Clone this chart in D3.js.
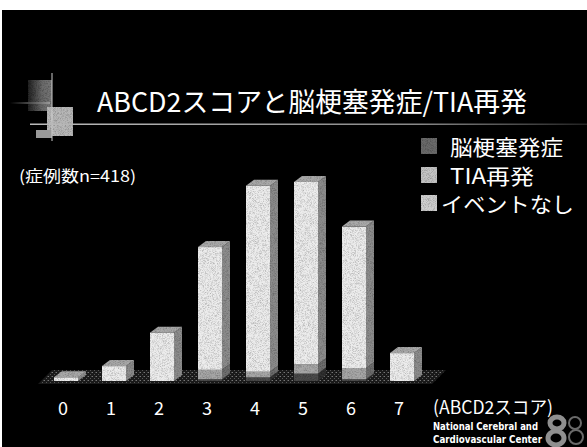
<!DOCTYPE html>
<html><head><meta charset="utf-8">
<script src="https://cdn.jsdelivr.net/npm/d3@7"></script>
<style>
html,body{margin:0;padding:0;background:#fff;}
svg{display:block;}
</style></head>
<body>
<script>
// ---- data ----
const categories = ["0","1","2","3","4","5","6","7"];
const strokeValues = [0, 0, 0, 1, 2, 4, 1, 0];      // 脳梗塞発症
const tiaValues    = [0, 0, 0, 5, 3, 5, 6, 0];      // TIA再発
const noneValues   = [2, 8, 26, 66, 100, 98, 76, 15]; // イベントなし
const seriesNames  = ["脳梗塞発症", "TIA再発", "イベントなし"];
const titleText = "ABCD2スコアと脳梗塞発症/TIA再発";
const noteText = "(症例数n=418)";
const axisTitle = "(ABCD2スコア)";
const creditLines = ["National Cerebral and", "Cardiovascular Center"];

(function(){
const W = 587, H = 447;
const svg = d3.select("body").append("svg").attr("width", W).attr("height", H);
const defs = svg.append("defs");

// stipple pattern for floor
const pat = defs.append("pattern").attr("id","floorPat").attr("width",4).attr("height",4).attr("patternUnits","userSpaceOnUse");
pat.append("rect").attr("width",4).attr("height",4).attr("fill","#1a1a1a");
pat.append("rect").attr("x",0).attr("y",0).attr("width",1).attr("height",1).attr("fill","#777");
pat.append("rect").attr("x",2).attr("y",2).attr("width",1).attr("height",1).attr("fill","#555");
pat.append("rect").attr("x",3).attr("y",0).attr("width",1).attr("height",1).attr("fill","#444");

// noise filter for surfaces
const f = defs.append("filter").attr("id","grain").attr("x",0).attr("y",0).attr("width","100%").attr("height","100%");
f.append("feTurbulence").attr("type","fractalNoise").attr("baseFrequency",1.6).attr("numOctaves",1).attr("seed",3).attr("result","n");
f.append("feColorMatrix").attr("in","n").attr("type","matrix")
 .attr("values","0 0 0 0 0  0 0 0 0 0  0 0 0 0 0  0 0 0 -1.2 0.7").attr("result","a");
f.append("feComposite").attr("in","a").attr("in2","SourceGraphic").attr("operator","in").attr("result","d");
const fm = f.append("feMerge");
fm.append("feMergeNode").attr("in","SourceGraphic");
fm.append("feMergeNode").attr("in","d");

// line gradient
const lg = defs.append("linearGradient").attr("id","lineGrad");
lg.append("stop").attr("offset","0%").attr("stop-color","#bbb");
lg.append("stop").attr("offset","70%").attr("stop-color","#888");
lg.append("stop").attr("offset","100%").attr("stop-color","#222");
const lg2 = defs.append("linearGradient").attr("id","lineGrad2");
lg2.append("stop").attr("offset","0%").attr("stop-color","#000");
lg2.append("stop").attr("offset","100%").attr("stop-color","#999");
const lg3 = defs.append("linearGradient").attr("id","sqGrad");
lg3.append("stop").attr("offset","0%").attr("stop-color","#222");
lg3.append("stop").attr("offset","60%").attr("stop-color","#6a6a6a");
lg3.append("stop").attr("offset","100%").attr("stop-color","#777");

// background
svg.append("rect").attr("x",2).attr("y",10).attr("width",W-2).attr("height",H-10).attr("fill","#000");

// title decoration
const deco = svg.append("g");
deco.append("rect").attr("x",28).attr("y",80).attr("width",24).attr("height",31).attr("fill","url(#sqGrad)").attr("filter","url(#grain)");
deco.append("rect").attr("x",10).attr("y",102).attr("width",40).attr("height",2).attr("fill","url(#lineGrad2)");
deco.append("rect").attr("x",47).attr("y",107).attr("width",26).attr("height",29).attr("fill","#b8b8b8").attr("filter","url(#grain)");
deco.append("rect").attr("x",36).attr("y",130).attr("width",16).attr("height",8).attr("fill","#999");
deco.append("line").attr("x1",52).attr("x2",52).attr("y1",73).attr("y2",141).attr("stroke","#ccc").attr("stroke-width",1);
deco.append("rect").attr("x",30).attr("y",123.5).attr("width",557).attr("height",1.5).attr("fill","url(#lineGrad)");

svg.append("text").attr("x",97).attr("y",112).attr("fill","#fff")
  .attr("font-family","'Noto Sans CJK JP', 'Noto Sans', sans-serif").attr("font-size",27)
  .attr("textLength",430).attr("lengthAdjust","spacingAndGlyphs")
  .text(titleText);

svg.append("text").attr("x",19).attr("y",182).attr("fill","#fff")
  .attr("font-family","'Noto Sans CJK JP', sans-serif").attr("font-size",16)
  .attr("textLength",117).attr("lengthAdjust","spacingAndGlyphs")
  .text(noteText);

// scales
const x = d3.scaleBand().domain(categories).range([42, 426]).paddingInner(0.5).paddingOuter(0.25);
const y = d3.scaleLinear().domain([0, 110]).range([381, 176.4]);
const dx = 8, dy = -6;

// floor
const x0 = 38, x1 = 432, fy = 381;
svg.append("path").attr("d",`M${x0},${fy+3} L${x1},${fy+3} L${x1+dx+6},${fy+dy-5} L${x0+dx+6},${fy+dy-5} Z`).attr("fill","url(#floorPat)");

// stack
const rows = categories.map((c,i)=>({cat:c, s:strokeValues[i], t:tiaValues[i], n:noneValues[i]}));
const stack = d3.stack().keys(["s","t","n"])(rows);
const frontC = ["#4c4c4c","#a6a6a6","#ececec"];
const sideC  = ["#303030","#6e6e6e","#8c8c8c"];
const topC   = ["#5a5a5a","#9a9a9a","#a8a8a8"];

const bars = svg.append("g");
stack.forEach((layer, k) => {
  layer.forEach((d, i) => {
    const v = d[1]-d[0];
    if (v <= 0) return;
    const bx = x(categories[i]), bw = x.bandwidth();
    const yt = y(d[1]), yb = y(d[0]);
    const g = bars.append("g").attr("filter","url(#grain)");
    g.append("path").attr("d",`M${bx+bw},${yb} L${bx+bw+dx},${yb+dy} L${bx+bw+dx},${yt+dy} L${bx+bw},${yt} Z`).attr("fill",sideC[k]);
    g.append("rect").attr("x",bx).attr("y",yt).attr("width",bw).attr("height",yb-yt).attr("fill",frontC[k]);
    if (k === 2) {
      g.append("path").attr("d",`M${bx},${yt} L${bx+dx},${yt+dy} L${bx+bw+dx},${yt+dy} L${bx+bw},${yt} Z`).attr("fill",topC[k]);
    }
  });
});

// x labels
svg.append("g").selectAll("text").data(categories).join("text")
  .attr("x", d => x(d) + x.bandwidth()/2 - 3).attr("y", 415)
  .attr("text-anchor","middle").attr("fill","#fff")
  .attr("font-family","'Noto Sans CJK JP', sans-serif").attr("font-size",18)
  .text(d => d);

svg.append("text").attr("x",433).attr("y",414).attr("fill","#fff")
  .attr("font-family","'Noto Sans CJK JP', sans-serif").attr("font-size",18)
  .attr("textLength",120).attr("lengthAdjust","spacingAndGlyphs")
  .text(axisTitle);

// legend
const legColors = ["#6a6a6a","#c4c4c4","#cfcfcf"];
const legY = [138, 167, 195];
const legTx = [450, 450, 441];
const legLen = [113, 84, 133];
const leg = svg.append("g");
seriesNames.forEach((name, i) => {
  leg.append("rect").attr("x",421).attr("y",legY[i]).attr("width",16).attr("height",16)
    .attr("fill",legColors[i]).attr("filter","url(#grain)");
  leg.append("text").attr("x",legTx[i]).attr("y",legY[i]+17).attr("fill","#fff")
    .attr("font-family","'Noto Sans CJK JP', sans-serif").attr("font-size",21)
    .attr("textLength",legLen[i]).attr("lengthAdjust","spacingAndGlyphs")
    .text(name);
});

// credit
const creditLen = [105, 109];
creditLines.forEach((t,i)=>{
  svg.append("text").attr("x",433).attr("y",430+i*12.5).attr("fill","#fff")
    .attr("font-family","'DejaVu Sans', sans-serif").attr("font-weight","bold").attr("font-size",10)
    .attr("textLength",creditLen[i]).attr("lengthAdjust","spacingAndGlyphs")
    .text(t);
});
// logo
const logo = svg.append("g").attr("fill","none");
logo.append("ellipse").attr("cx",557).attr("cy",423).attr("rx",7).attr("ry",6).attr("stroke","#8f8f8f").attr("stroke-width",5);
logo.append("ellipse").attr("cx",556).attr("cy",438).attr("rx",8).attr("ry",7).attr("stroke","#8f8f8f").attr("stroke-width",5);
logo.append("ellipse").attr("cx",575).attr("cy",423).attr("rx",6).attr("ry",6).attr("stroke","#6a6a6a").attr("stroke-width",2);
logo.append("ellipse").attr("cx",576).attr("cy",437).attr("rx",7).attr("ry",7).attr("stroke","#6a6a6a").attr("stroke-width",2);
})();
</script>
</body></html>
